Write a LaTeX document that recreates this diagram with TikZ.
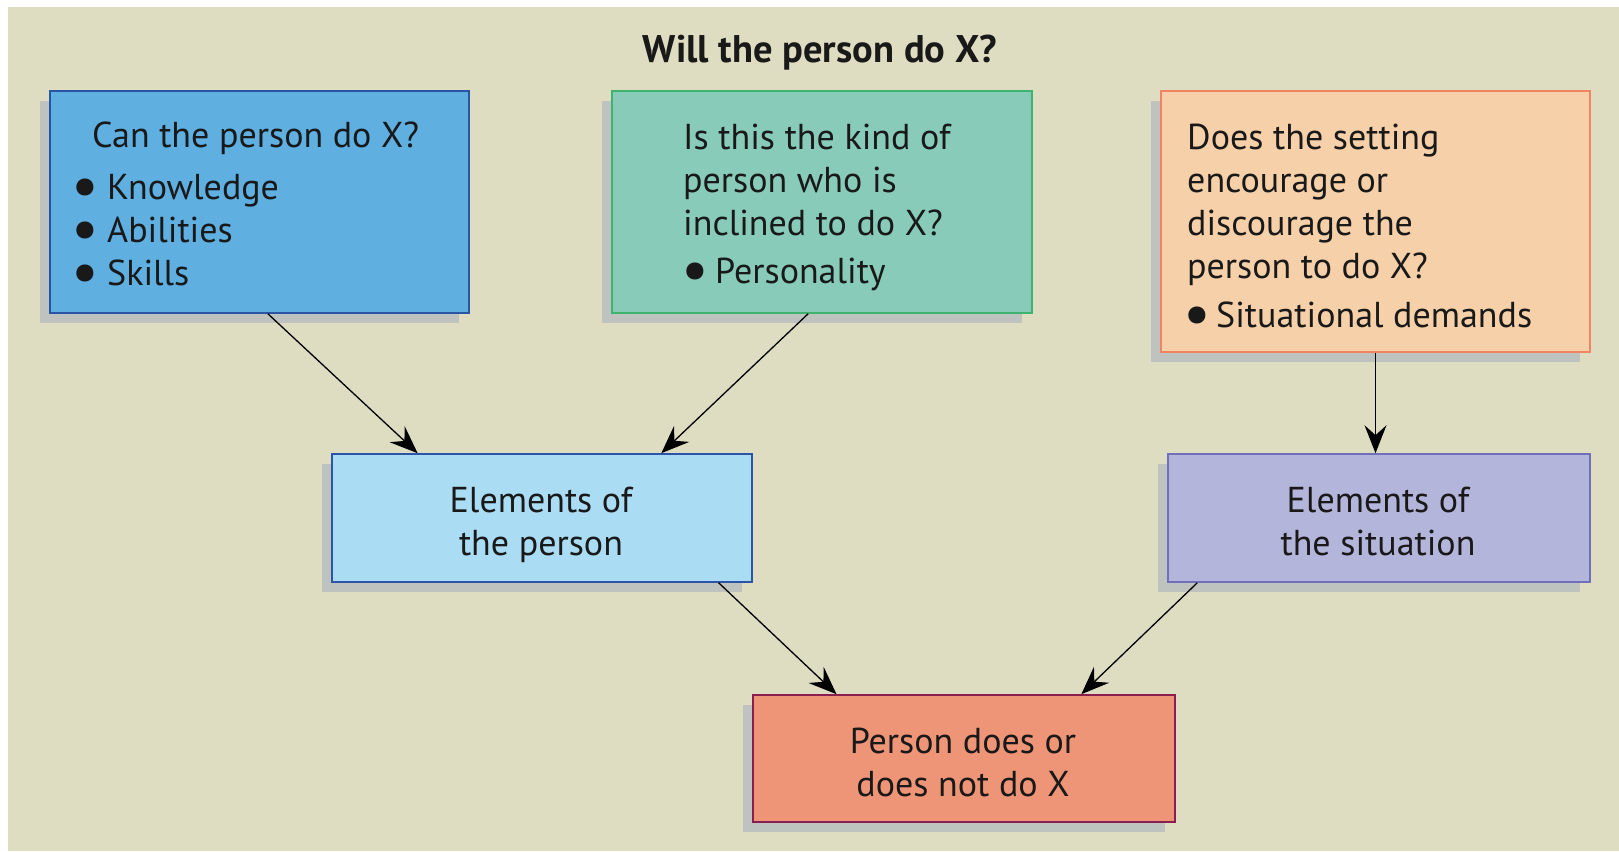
\documentclass[tikz,border=0pt]{standalone}
\usepackage{fontspec}
\setmainfont{PT Sans}
\usepackage{graphicx}
\usetikzlibrary{arrows.meta,shadows,calc}
\definecolor{bgc}{HTML}{DFDDC1}
\definecolor{shadowc}{HTML}{BEC3BF}
\definecolor{fa}{HTML}{5FAFE0}\definecolor{da}{HTML}{2A55A5}
\definecolor{fb}{HTML}{88CBB8}\definecolor{db}{HTML}{3EB370}
\definecolor{fc}{HTML}{F5D0A9}\definecolor{dc}{HTML}{F08463}
\definecolor{fd}{HTML}{AADDF4}\definecolor{dd}{HTML}{2C55AA}
\definecolor{fe}{HTML}{EF9577}\definecolor{de}{HTML}{8A1E50}
\definecolor{ff}{HTML}{B4B5DB}\definecolor{dff}{HTML}{7070BA}
\newcommand{\bul}[1]{\makebox[#1][l]{\hspace*{-6pt}\smash{\raisebox{-0.2em}{\scalebox{1.7}{\textbullet}}}}}
\tikzset{
  boxnode/.style={draw, line width=1.6pt, inner sep=0pt,
    drop shadow={shadow xshift=-10pt, shadow yshift=-10pt, fill=shadowc, opacity=1}},
  txt/.style={inner sep=0pt, font=\fontsize{36}{43}\selectfont, text=black!90},
  ltxt/.style={txt, align=left, anchor=west},
  ctxt/.style={txt, align=center, anchor=center},
  arr/.style={-{Stealth[length=28pt, width=22pt, inset=10pt]}, line width=1.3pt, black}
}
\begin{document}
\begin{tikzpicture}[x=1pt,y=-1pt]
\useasboundingbox (0,0) rectangle (1619,851);
\fill[bgc] (8,7) rectangle (1619,851);
\node[txt, anchor=base, font=\fontsize{38.5}{43}\selectfont\bfseries] (title) at (820,63) {Will the person do X?};
\node[boxnode, fill=fa, draw=da, minimum width=419pt, minimum height=222pt] (b1) at (259.5,202) {};
\node[boxnode, fill=fb, draw=db, minimum width=420pt, minimum height=222pt] (b2) at (822,202) {};
\node[boxnode, fill=fc, draw=dc, minimum width=429pt, minimum height=261pt] (b3) at (1375.5,221.5) {};
\node[boxnode, fill=fd, draw=dd, minimum width=420pt, minimum height=128pt] (b4) at (542,518) {};
\node[boxnode, fill=ff, draw=dff, minimum width=422pt, minimum height=128pt] (b6) at (1379,518) {};
\node[boxnode, fill=fe, draw=de, minimum width=422pt, minimum height=127pt] (b5) at (964,758.5) {};
\node[ltxt] (t1) at (77,203.5) {\hspace*{15pt}Can the person do X?\\[9pt]\bul{30pt}Knowledge\\\bul{30pt}Abilities\\\bul{30pt}Skills};
\node[ltxt] (t2) at (683,207.5) {Is this the kind of\\person who is\\inclined to do X?\\[5pt]\hspace*{4pt}\bul{28pt}Personality};
\node[ltxt] (t3) at (1187,226) {Does the setting\\encourage or\\discourage the\\person to do X?\\[6pt]\hspace*{2pt}\bul{27pt}Situational demands};
\node[ctxt] (t4) at (541,524.5) {Elements of\\the person};
\node[ctxt] (t6) at (1378,522) {Elements of\\the situation};
\node[ctxt] (t5) at (963,762.5) {Person does or\\does not do X};
\draw[arr] ($(b1.south west)!0.52!(b1.south east)$) -- ($(b4.north west)!0.205!(b4.north east)$);
\draw[arr] ($(b2.south west)!0.467!(b2.south east)$) -- ($(b4.north west)!0.783!(b4.north east)$);
\draw[arr] (b3.south) -- (b3.south |- b6.north);
\draw[arr] ($(b4.south west)!0.919!(b4.south east)$) -- ($(b5.north west)!0.199!(b5.north east)$);
\draw[arr] ($(b6.south west)!0.071!(b6.south east)$) -- ($(b5.north west)!0.777!(b5.north east)$);
\end{tikzpicture}
\end{document}
